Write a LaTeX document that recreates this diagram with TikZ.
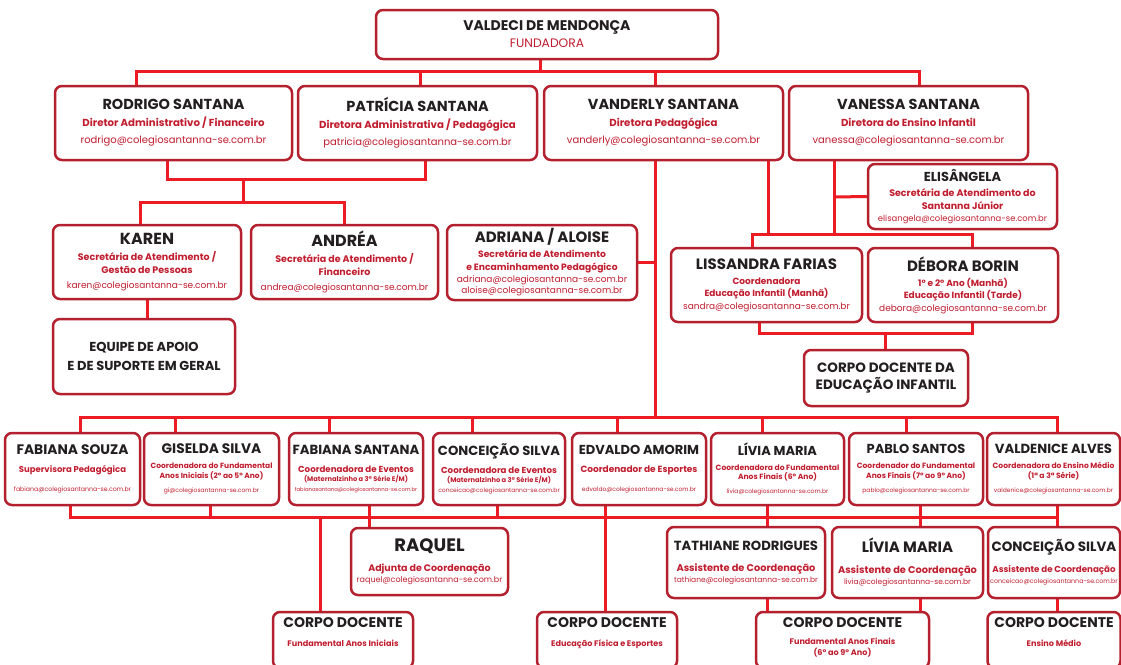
\documentclass[tikz,border=0pt]{standalone}
\usepackage{fontspec}
\setmainfont{Poppins}
\usepackage{tikz}
\usetikzlibrary{backgrounds}
\usetikzlibrary{positioning}
\definecolor{boxred}{RGB}{180,32,46}
\definecolor{linkred}{RGB}{237,28,36}
\definecolor{namecol}{RGB}{35,31,32}
\definecolor{rolered}{RGB}{193,29,47}
\newcommand \pname [2][14.5]{{\fontsize{#1}{#1}\selectfont\bfseries\color{namecol}#2}}
\newcommand \prole [2][10.2]{{\fontsize{#1}{#1}\selectfont\bfseries\color{rolered}#2}}
\newcommand \pmail [2][10]{{\fontsize{#1}{#1}\selectfont\color{rolered}#2}}
\tikzstyle{card}=[rectangle,rounded corners=7pt,draw=boxred,line width=2.5pt,fill=white,inner sep=0pt,align=center,font=\fontsize{9}{17}\selectfont]
\tikzstyle{midcard}=[card,font=\fontsize{9}{13}\selectfont]
\tikzstyle{smallcard}=[card,font=\fontsize{8}{12}\selectfont]
\tikzstyle{link}=[linkred,line width=3pt]

\begin{document}
\begin{tikzpicture}[x=1pt,y=-1pt]
    \useasboundingbox (0,0) rectangle (1121,664);
    \clip (0,0) rectangle (1121,664);
    % direcao
    \node[card,minimum width=342pt,minimum height=49pt] at (547,34.5) (valdeci) {\pname[14]{VALDECI DE MENDONÇA}\\\pmail[12.3]{FUNDADORA}};
    \node[card,minimum width=237pt,minimum height=74pt] at (173.5,123) (rodrigo) {\pname{RODRIGO SANTANA}\\\prole{Diretor Administrativo / Financeiro}\\\pmail{rodrigo@colegiosantanna-se.com.br}};
    \node[card,minimum width=239pt,minimum height=74pt] at (417.5,123) (patricia) {\pname{PATRÍCIA SANTANA}\\\prole{Diretora Administrativa / Pedagógica}\\\pmail{patricia@colegiosantanna-se.com.br}};
    \node[card,minimum width=239pt,minimum height=74pt] at (663.5,123) (vanderly) {\pname{VANDERLY SANTANA}\\\prole{Diretora Pedagógica}\\\pmail{vanderly@colegiosantanna-se.com.br}};
    \node[card,minimum width=239pt,minimum height=74pt] at (908.5,123) (vanessa) {\pname{VANESSA SANTANA}\\\prole{Diretora do Ensino Infantil}\\\pmail{vanessa@colegiosantanna-se.com.br}};
    % secretaria
    \node[midcard,minimum width=188pt,minimum height=74pt] at (147,262) (karen) {\pname[16]{KAREN}\\[3pt]\prole[9.5]{Secretária de Atendimento /}\\\prole[9.5]{Gestão de Pessoas}\\[2pt]\pmail[9]{karen@colegiosantanna-se.com.br}};
    \node[midcard,minimum width=187pt,minimum height=74pt] at (344.5,262) (andrea) {\pname[16]{ANDRÉA}\\[3pt]\prole[9.5]{Secretária de Atendimento /}\\\prole[9.5]{Financeiro}\\[2pt]\pmail[9]{andrea@colegiosantanna-se.com.br}};
    \node[midcard,minimum width=190pt,minimum height=75pt] at (542,262.5) (adriana) {\pname[15]{ADRIANA / ALOISE}\\[2pt]\prole[9.2]{Secretária de Atendimento}\\\prole[9.2]{e Encaminhamento Pedagógico}\\[-1pt]\pmail[9]{adriana@colegiosantanna-se.com.br}\\[-2pt]\pmail[9]{aloise@colegiosantanna-se.com.br}};
    \node[midcard,minimum width=182pt,minimum height=75pt] at (144,356.5) (equipe) {\pname[13]{EQUIPE DE APOIO}\\[6pt]\pname[13]{E DE SUPORTE EM GERAL}};
    \node[midcard,minimum width=189pt,minimum height=65pt] at (962.5,196.5) (elisangela) {\pname[13]{ELISÂNGELA}\\[2pt]\prole[9.5]{Secretária de Atendimento do}\\\prole[9.5]{Santanna Júnior}\\[-1pt]\pmail[8.4]{elisangela@colegiosantanna-se.com.br}};
    % infantil
    \node[midcard,minimum width=191pt,minimum height=74pt] at (766.5,285) (lissandra) {\pname[15]{LISSANDRA FARIAS}\\[2pt]\prole[9]{Coordenadora}\\[-1pt]\prole[9]{Educação Infantil (Manhã)}\\\pmail[9]{sandra@colegiosantanna-se.com.br}};
    \node[midcard,minimum width=190pt,minimum height=74pt] at (963,285) (debora) {\pname[15]{DÉBORA BORIN}\\[2pt]\prole[9]{1° e 2° Ano (Manhã)}\\[-1pt]\prole[9]{Educação Infantil (Tarde)}\\\pmail[9]{debora@colegiosantanna-se.com.br}};
    \node[midcard,minimum width=164pt,minimum height=56pt] at (886,378) (corpoinf) {\pname[13.5]{CORPO DOCENTE DA}\\[4pt]\pname[13.5]{EDUCAÇÃO INFANTIL}};
    % coordenacao
    \node[smallcard,minimum width=135pt,minimum height=72pt] at (72.5,469) (fabsouza) {\pname[13.8]{FABIANA SOUZA}\\[6pt]\prole[8.5]{Supervisora Pedagógica}\\[7pt]\pmail[6.2]{fabiana@colegiosantanna-se.com.br}};
    \node[smallcard,minimum width=135pt,minimum height=72pt] at (211.5,469) (giselda) {\pname[13.8]{GISELDA SILVA}\\[3pt]\prole[7.5]{Coordenadora do Fundamental}\\[-2.5pt]\prole[7.5]{Anos Iniciais (2° ao 5° Ano)}\\[2pt]\pmail[6]{gi@colegiosantanna-se.com.br}};
    \node[smallcard,minimum width=134pt,minimum height=72pt] at (356,469) (fabsantana) {\pname[13.2]{FABIANA SANTANA}\\[6pt]\prole[8.7]{Coordenadora de Eventos}\\[-3pt]\prole[6.7]{(Maternalzinho a 3ª Série E/M)}\\[-2pt]\pmail[5.3]{fabianasantana@colegiosantanna-se.com.br}};
    \node[smallcard,minimum width=132pt,minimum height=72pt] at (499,469) (conceicao) {\pname[13.2]{CONCEIÇÃO SILVA}\\[6pt]\prole[8.7]{Coordenadora de Eventos}\\[-3pt]\prole[6.7]{(Maternalzinho a 3ª Série E/M)}\\[-2pt]\pmail[6]{conceicao@colegiosantanna-se.com.br}};
    \node[smallcard,minimum width=134pt,minimum height=72pt] at (639,469) (edvaldo) {\pname[13]{EDVALDO AMORIM}\\[6pt]\prole[9]{Coordenador de Esportes}\\[7pt]\pmail[6]{edvaldo@colegiosantanna-se.com.br}};
    \node[smallcard,minimum width=133pt,minimum height=72pt] at (777.5,469) (livia) {\pname[13]{LÍVIA MARIA}\\[3pt]\prole[7.6]{Coordenadora do Fundamental}\\[-2.5pt]\prole[7.6]{Anos Finais (6° Ano)}\\[2pt]\pmail[6]{livia@colegiosantanna-se.com.br}};
    \node[smallcard,minimum width=134pt,minimum height=72pt] at (916,469) (pablo) {\pname[13]{PABLO SANTOS}\\[3pt]\prole[7.6]{Coordenador do Fundamental}\\[-2.5pt]\prole[7.6]{Anos Finais (7° ao 9° Ano)}\\[2pt]\pmail[6]{pablo@colegiosantanna-se.com.br}};
    \node[smallcard,minimum width=133pt,minimum height=72pt] at (1053.5,469) (valdenice) {\pname[13.2]{VALDENICE ALVES}\\[3pt]\prole[7.6]{Coordenadora do Ensino Médio}\\[-2.5pt]\prole[7.6]{(1ª a 3ª Série)}\\[2pt]\pmail[6]{valdenice@colegiosantanna-se.com.br}};
    % assistentes
    \node[smallcard,minimum width=157pt,minimum height=67pt] at (429.5,561.5) (raquel) {\pname[18]{RAQUEL}\\[8pt]\prole[9.5]{Adjunta de Coordenação}\\[-1pt]\pmail[8]{raquel@colegiosantanna-se.com.br}};
    \node[smallcard,minimum width=158pt,minimum height=71pt] at (746,562.5) (tathiane) {\pname[13.2]{TATHIANE RODRIGUES}\\[9pt]\prole[9.8]{Assistente de Coordenação}\\[-1pt]\pmail[7.5]{tathiane@colegiosantanna-se.com.br}};
    \node[smallcard,minimum width=151pt,minimum height=71pt] at (907.5,562.5) (liviaast) {\pname[15]{LÍVIA MARIA}\\[9pt]\prole[9.8]{Assistente de Coordenação}\\[-1pt]\pmail[7.5]{livia@colegiosantanna-se.com.br}};
    \node[smallcard,minimum width=132pt,minimum height=71pt] at (1054,562.5) (conceicaoast) {\pname[13.5]{CONCEIÇÃO SILVA}\\[9pt]\prole[8.7]{Assistente de Coordenação}\\[-1pt]\pmail[6.3]{conceicao@colegiosantanna-se.com.br}};
    % corpo docente
    \node[smallcard,minimum width=140pt,minimum height=56pt,text depth=15pt] at (343,640) (cdai) {\pname[14]{CORPO DOCENTE}\\[7pt]\prole[8.1]{Fundamental Anos Iniciais}};
    \node[smallcard,minimum width=140pt,minimum height=56pt,text depth=15pt] at (607,640) (cdef) {\pname[14]{CORPO DOCENTE}\\[7pt]\prole[8.1]{Educação Física e Esportes}};
    \node[smallcard,minimum width=173pt,minimum height=56pt,text depth=6pt] at (842.5,640) (cdaf) {\pname[14]{CORPO DOCENTE}\\[5pt]\prole[8.1]{Fundamental Anos Finais}\\[-1pt]\prole[8.1]{(6° ao 9° Ano)}};
    \node[smallcard,minimum width=133pt,minimum height=56pt,text depth=15pt] at (1054,640) (cdem) {\pname[14]{CORPO DOCENTE}\\[7pt]\prole[8.1]{Ensino Médio}};
    % ligacoes
    \coordinate (topbus) at (540,71);
    \coordinate (rpjoin) at (243,179);
    \coordinate (kabus) at (243,202);
    \coordinate (inftop) at (768,234);
    \coordinate (elijoin) at (834,197);
    \coordinate (infbot) at (885,333);
    \coordinate (midbus) at (655,417);
    \coordinate (lowbus) at (605,517);
    \begin{scope}[on background layer]
    \fill[white] (0,0) rectangle (1121,664);
    \draw[link] (valdeci.south -| topbus) -- (topbus);
    \draw[link] ([xshift=-37.5pt]rodrigo.north) |- (topbus) -| ([xshift=10.5pt]vanessa.north);
    \draw[link] ([xshift=2.5pt]patricia.north) -- ([xshift=2.5pt]patricia.north |- topbus);
    \draw[link] ([xshift=-8.5pt]vanderly.north) -- ([xshift=-8.5pt]vanderly.north |- topbus);
    \draw[link] ([xshift=-6.5pt]rodrigo.south) |- (rpjoin) -| ([xshift=7.5pt]patricia.south);
    \draw[link] (rpjoin) -- (kabus);
    \draw[link] ([xshift=-7pt]karen.north) |- (kabus) -| (andrea.north);
    \draw[link] (karen.south) -- (equipe.north -| karen.south);
    \draw[link] ([xshift=-8.5pt]vanderly.south) -- (midbus);
    \draw[link] (adriana.east) -- (adriana.east -| midbus);
    \draw[link] ([xshift=104.5pt]vanderly.south) -- (inftop);
    \draw[link] ([xshift=-14.5pt]lissandra.north) |- (inftop) -| ([xshift=9pt]debora.north);
    \draw[link] ([xshift=-74.5pt]vanessa.south) -- (elijoin) -- (elijoin |- inftop);
    \draw[link] (elisangela.west) -- (elijoin);
    \draw[link] ([xshift=-7.5pt]lissandra.south) |- (infbot) -| ([xshift=9pt]debora.south);
    \draw[link] (infbot) -- (infbot |- corpoinf.north);
    \draw[link] ([xshift=7.5pt]fabsouza.north) |- (midbus) -| ([xshift=3.5pt]valdenice.north);
    \draw[link] ([xshift=-36.5pt]giselda.north) -- ([xshift=-36.5pt]giselda.north |- midbus);
    \draw[link] ([xshift=-27pt]fabsantana.north) -- ([xshift=-27pt]fabsantana.north |- midbus);
    \draw[link] ([xshift=-27pt]conceicao.north) -- ([xshift=-27pt]conceicao.north |- midbus);
    \draw[link] ([xshift=-22pt]edvaldo.north) -- ([xshift=-22pt]edvaldo.north |- midbus);
    \draw[link] ([xshift=-15.5pt]livia.north) -- ([xshift=-15.5pt]livia.north |- midbus);
    \draw[link] ([xshift=-10pt]pablo.north) -- ([xshift=-10pt]pablo.north |- midbus);
    \draw[link] ([xshift=-2.5pt]fabsouza.south) |- (lowbus) -| ([xshift=3.5pt]valdenice.south);
    \draw[link] ([xshift=-1.5pt]giselda.south) -- ([xshift=-1.5pt]giselda.south |- lowbus);
    \draw[link] ([xshift=-2pt]conceicao.south) -- ([xshift=-2pt]conceicao.south |- lowbus);
    \draw[link] ([xshift=13pt]fabsantana.south) -- ([xshift=-60.5pt]raquel.north);
    \draw[link] ([xshift=-34pt]edvaldo.south) -- ([xshift=-2pt]cdef.north);
    \draw[link] ([xshift=-10.5pt]livia.south) -- ([xshift=21pt]tathiane.north);
    \draw[link] ([xshift=4pt]pablo.south) -- ([xshift=12.5pt]liviaast.north);
    \draw[link] ([xshift=3.5pt]valdenice.south) -- ([xshift=3pt]conceicaoast.north);
    \draw[link] ([xshift=-23pt]cdai.north) -- ([xshift=-23pt]cdai.north |- lowbus);
    \draw[link] ([xshift=21pt]tathiane.south) -- ([xshift=-75.5pt]cdaf.north);
    \draw[link] ([xshift=12.5pt]liviaast.south) -- ([xshift=77.5pt]cdaf.north);
    \draw[link] ([xshift=3pt]conceicaoast.south) -- ([xshift=3pt]cdem.north);
    \end{scope}
\end{tikzpicture}
\end{document}
